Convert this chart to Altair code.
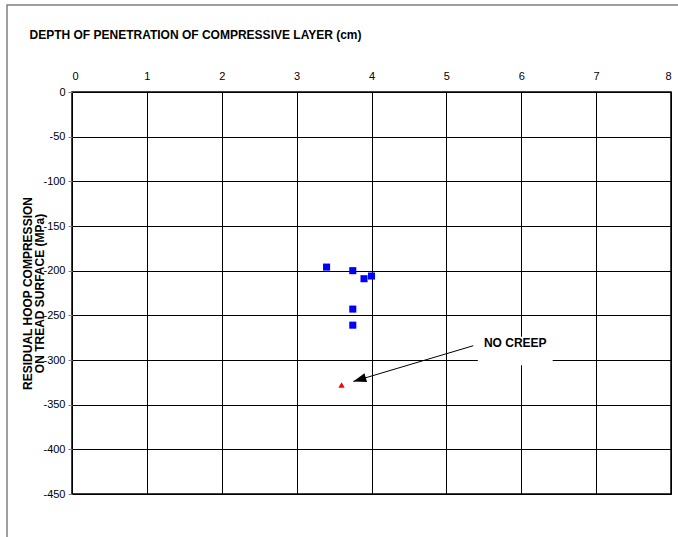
import math
import altair as alt
import pandas as pd

# Measured specimens: depth of the compressive layer vs residual hoop stress
depth_cm = [3.40, 3.75, 3.90, 4.00, 3.75, 3.75]
hoop_mpa = [-196, -200, -209, -206, -243, -261]

# Reference case without creep
no_creep_depth = [3.60]
no_creep_hoop = [-328]

x_ticks = [0, 1, 2, 3, 4, 5, 6, 7, 8]
y_ticks = [0, -50, -100, -150, -200, -250, -300, -350, -400, -450]

# Callout: label, its backing box and the arrow pointing at the no-creep point
label_text = ["NO CREEP"]
label_x = [5.92]
label_y = [-281]
box_x = [5.42]
box_x2 = [6.42]
box_y = [-274]
box_y2 = [-306]
arrow_x = [5.36]
arrow_y = [-284]
arrow_tip_x = [3.757]
arrow_tip_y = [-324]

W, H = 599, 402
FONT = "Liberation Sans"

x_scale = alt.Scale(domain=[0, 8], nice=False, zero=False)
y_scale = alt.Scale(domain=[-450, 0], nice=False, zero=False)

pts = pd.DataFrame({"x": depth_cm, "y": hoop_mpa})
tri = pd.DataFrame({"x": no_creep_depth, "y": no_creep_hoop})
lab = pd.DataFrame({"x": label_x, "y": label_y, "t": label_text})
box = pd.DataFrame({"x": box_x, "x2": box_x2, "y": box_y, "y2": box_y2})

# Arrowhead orientation in screen space
dx = (arrow_tip_x[0] - arrow_x[0]) * W / 8
dy = -(arrow_tip_y[0] - arrow_y[0]) * H / 450
head_angle = math.degrees(math.atan2(dx, -dy)) % 360
arrow = pd.DataFrame({"x": arrow_x, "y": arrow_y, "x2": arrow_tip_x, "y2": arrow_tip_y,
                      "angle": [head_angle]})

x_axis = alt.Axis(
    orient="top", values=x_ticks, format="d", grid=True, ticks=False, domain=False,
    labelPadding=11, labelFontSize=11,
    title="DEPTH OF PENETRATION OF COMPRESSIVE LAYER (cm)",
    titleX=-43, titleY=-58, titleAlign="left", titleBaseline="middle", titleAngle=0,
)
y_axis = alt.Axis(
    values=y_ticks, format="d", grid=True, ticks=True, tickSize=4, tickColor="#808080",
    domain=False, labelPadding=3, labelFontSize=11,
    labelExpr="replace(datum.label, '\u2212', '-')",
    title=["RESIDUAL HOOP COMPRESSION", "ON TREAD SURFACE (MPa)"],
    titleX=-45, titleY=201, titleAngle=270, titleAlign="center", titleBaseline="middle",
)

frame = alt.Chart(pd.DataFrame({"a": [0]})).mark_rect(
    filled=False, stroke="#7f7f7f", strokeWidth=1.5
).encode(x=alt.value(-65), x2=alt.value(640), y=alt.value(-87), y2=alt.value(470))

squares = alt.Chart(pts).mark_point(
    shape="square", filled=True, size=50, color="#0000ff", opacity=1
).encode(
    x=alt.X("x:Q", scale=x_scale, axis=x_axis),
    y=alt.Y("y:Q", scale=y_scale, axis=y_axis),
)

triangle = alt.Chart(tri).mark_point(
    shape="triangle-up", filled=True, size=40, color="#ff0000", opacity=1
).encode(x=alt.X("x:Q", scale=x_scale), y=alt.Y("y:Q", scale=y_scale))

label_box = alt.Chart(box).mark_rect(fill="white", stroke=None).encode(
    x=alt.X("x:Q", scale=x_scale), x2="x2:Q",
    y=alt.Y("y:Q", scale=y_scale), y2="y2:Q",
)

label = alt.Chart(lab).mark_text(
    font=FONT, fontSize=12, fontWeight="bold", color="black",
    align="center", baseline="middle"
).encode(x=alt.X("x:Q", scale=x_scale), y=alt.Y("y:Q", scale=y_scale), text="t:N")

arrow_line = alt.Chart(arrow).mark_rule(color="black", strokeWidth=1).encode(
    x=alt.X("x:Q", scale=x_scale), y=alt.Y("y:Q", scale=y_scale),
    x2="x2:Q", y2="y2:Q",
)

arrow_head = alt.Chart(arrow).mark_point(
    shape="M0,0L-0.35,1L0.35,1Z", filled=True, size=676, color="black", opacity=1
).encode(
    x=alt.X("x2:Q", scale=x_scale), y=alt.Y("y2:Q", scale=y_scale),
    angle=alt.Angle("angle:Q", scale=None),
)

chart = alt.layer(
    frame, label_box, label, arrow_line, arrow_head, squares, triangle
).properties(
    width=W, height=H,
    autosize=alt.AutoSizeParams(type="none"),
    padding={"left": 72, "top": 92, "right": 7, "bottom": 43},
    background="white",
).configure_view(
    stroke="black", strokeWidth=1.5
).configure_axis(
    gridColor="black", gridWidth=1, gridOpacity=1,
    labelFont=FONT, labelColor="black",
    titleFont=FONT, titleFontSize=12, titleFontWeight="bold", titleColor="black",
    titleLineHeight=12,
)

chart.save("out.html", embed_options={"renderer": "svg", "actions": False})
